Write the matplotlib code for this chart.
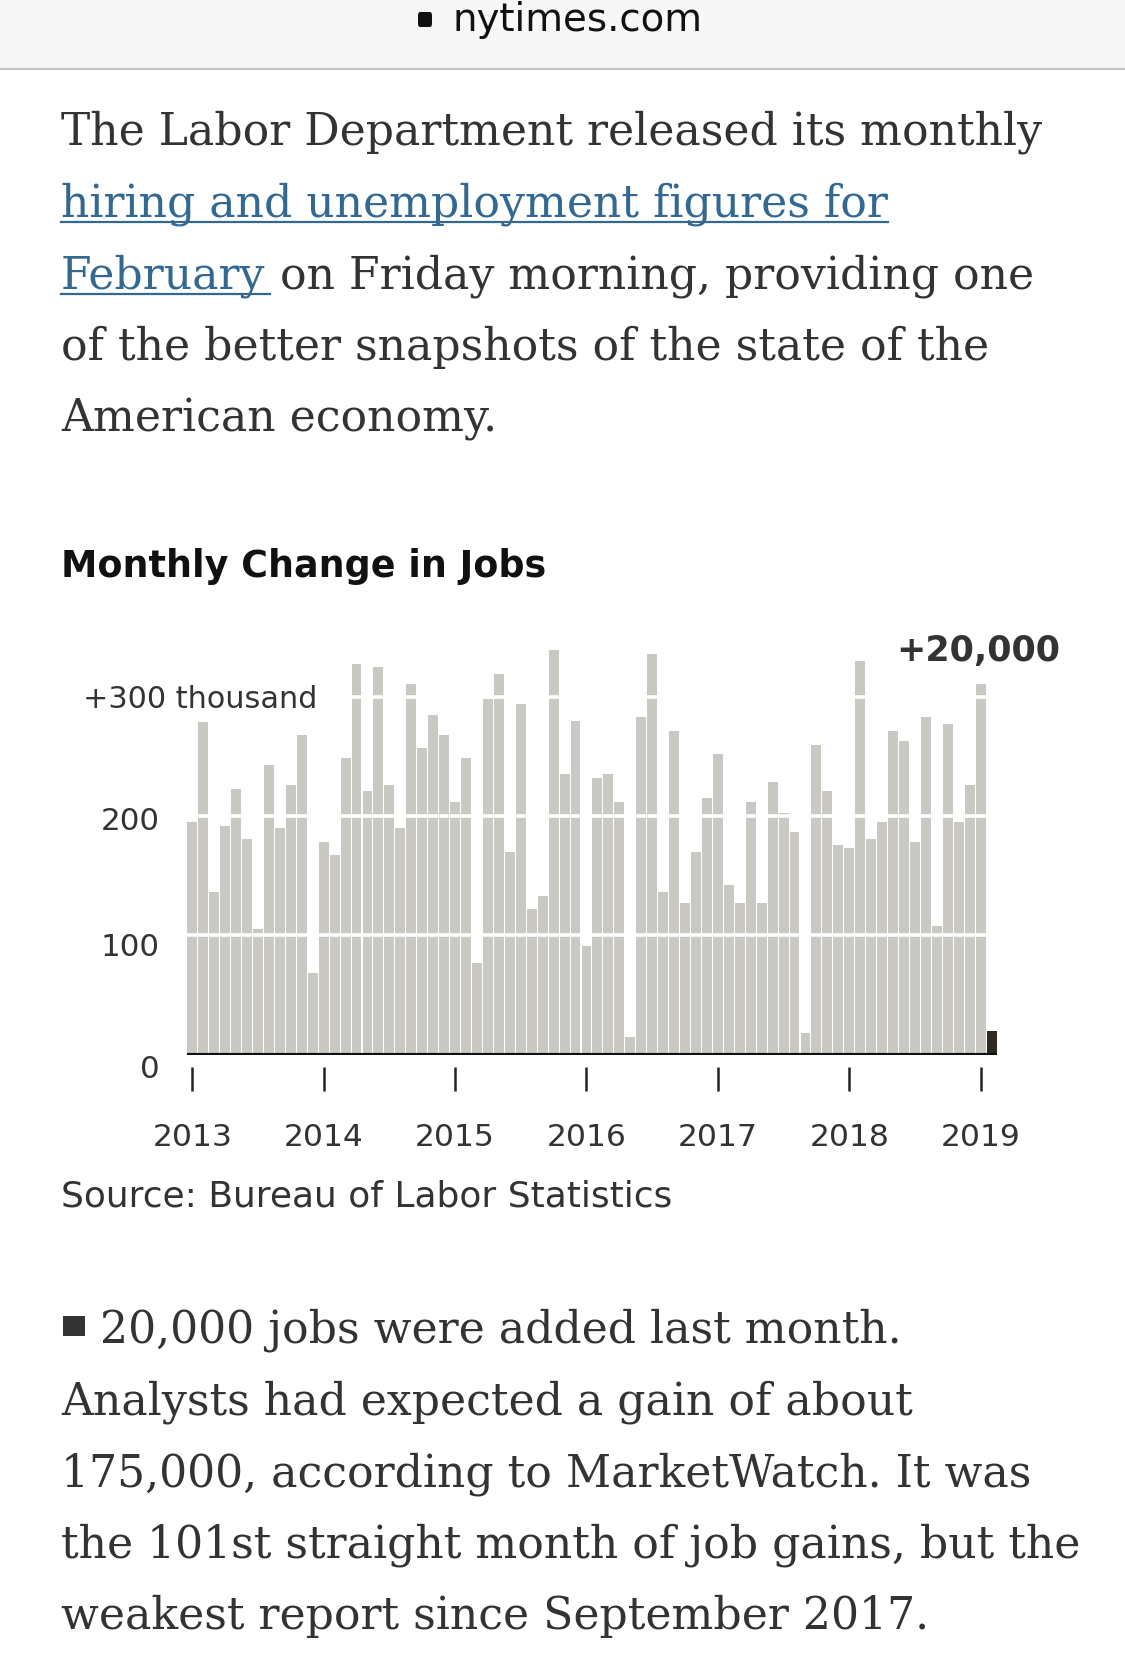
import matplotlib
matplotlib.use("Agg")
import matplotlib.pyplot as plt
from matplotlib.patches import Rectangle, FancyBboxPatch
from matplotlib.lines import Line2D

W, H = 1125, 1677

# monthly change in jobs, thousands, Jan 2013 - Feb 2019
jobs_2013 = [195, 279, 136, 192, 223, 181, 105, 243, 190, 226, 268, 68]
jobs_2014 = [178, 167, 249, 328, 221, 325, 226, 190, 311, 257, 285, 268]
jobs_2015 = [212, 249, 77, 298, 319, 170, 294, 122, 133, 339, 235, 280]
jobs_2016 = [91, 232, 235, 212, 15, 283, 336, 136, 271, 127, 170, 215]
jobs_2017 = [252, 142, 127, 212, 127, 229, 203, 187, 18, 260, 221, 176]
jobs_2018 = [173, 330, 181, 195, 271, 263, 178, 283, 108, 277, 195, 226]
jobs_2019 = [311, 20]
jobs = jobs_2013 + jobs_2014 + jobs_2015 + jobs_2016 + jobs_2017 + jobs_2018 + jobs_2019

years = [2013, 2014, 2015, 2016, 2017, 2018, 2019]
grid_vals = [100, 200, 300]
ylabels = ["0", "100", "200", "+300 thousand"]

TEXT = "#333333"
LINK = "#326891"
BAR = "#c9c8c3"
LAST = "#2e2a22"

fig = plt.figure(figsize=(W / 100, H / 100), dpi=100)
fig.patch.set_facecolor("white")


def fx(x):
    return x / W


def fy(y):
    return 1 - y / H


# browser bar
fig.patches.append(Rectangle((0, fy(69)), 1, 69 / H, transform=fig.transFigure,
                             facecolor="#f7f7f7", edgecolor="none", zorder=0))
fig.add_artist(Line2D([0, 1], [fy(69), fy(69)], transform=fig.transFigure, color="#c4c4c4", lw=1.5))
fig.patches.append(FancyBboxPatch((fx(418), fy(27)), 14 / W, 15 / H, boxstyle="round,pad=0,rounding_size=0.002",
                                  transform=fig.transFigure, facecolor="#111111", edgecolor="none"))
fig.text(fx(453), fy(31), "nytimes.com", fontsize=27.9, family="DejaVu Sans", color="#111111", va="baseline")

# intro paragraph
serif = dict(fontsize=31.8, family="DejaVu Serif", va="baseline")
fig.text(fx(61), fy(144.6), "The Labor Department released its monthly", color=TEXT, **serif)
link1 = fig.text(fx(61), fy(216.3), "hiring and unemployment figures for", color=LINK, **serif)
link2 = fig.text(fx(61), fy(288), "February", color=LINK, **serif)
fig.text(fx(61), fy(359.6), "of the better snapshots of the state of the", color=TEXT, **serif)
fig.text(fx(61), fy(431.3), "American economy.", color=TEXT, **serif)

# chart title
fig.text(fx(61), fy(577), "Monthly Change in Jobs", fontsize=26.3, family="DejaVu Sans",
         fontweight="bold", color="#111111", va="baseline")

# chart
ax = fig.add_axes([fx(186.8), fy(1054.5), (997.1 - 186.8) / W, (1054.5 - 637.3) / H])
ax.set_xlim(-0.5, 73.5)
ax.set_ylim(0, 350)
ax.axis("off")

xs = list(range(len(jobs)))
colors = [BAR] * (len(jobs) - 1) + [LAST]
ax.bar(xs, jobs, width=0.9, color=colors, zorder=1)
for v in grid_vals:
    ax.axhline(v, color="white", lw=2.6, zorder=2)
ax.axhline(0, color="#111111", lw=3, zorder=3)

# y labels
ypos = [-20, 83, 188, 291]
for lab, yp in zip(ylabels, ypos):
    if lab.startswith("+"):
        ax.text(-10.0, yp, lab, ha="left", va="baseline", fontsize=21.8, family="DejaVu Sans",
                color=TEXT, zorder=5, clip_on=False)
    else:
        ax.text(-2.95, yp, lab, ha="right", va="baseline", fontsize=22.3, family="DejaVu Sans",
                color=TEXT, zorder=5, clip_on=False)

# year ticks
for k, yr in enumerate(years):
    i = k * 12
    ax.plot([i, i], [-10.5, -30.4], color="#222222", lw=1.8, clip_on=False, solid_capstyle="butt")
    ax.text(i, -76.9, str(yr), ha="center", va="baseline", fontsize=22.6, family="DejaVu Sans",
            color=TEXT, clip_on=False)

fig.text(fx(1060), fy(661), "+20,000", ha="right", va="baseline", fontsize=25.2, family="DejaVu Sans",
         fontweight="bold", color=TEXT)

fig.text(fx(61), fy(1206.7), "Source: Bureau of Labor Statistics", fontsize=25.9, family="DejaVu Sans",
         color=TEXT, va="baseline")

# bullet paragraph
fig.patches.append(Rectangle((fx(63), fy(1336)), 22 / W, 20 / H, transform=fig.transFigure,
                             facecolor=TEXT, edgecolor="none"))
fig.text(fx(100), fy(1343), "20,000 jobs were added last month.", color=TEXT, **serif)
fig.text(fx(61), fy(1414.5), "Analysts had expected a gain of about", color=TEXT, **serif)
fig.text(fx(61), fy(1486), "175,000, according to MarketWatch. It was", color=TEXT, **serif)
fig.text(fx(61), fy(1557.5), "the 101st straight month of job gains, but the", color=TEXT, **serif)
fig.text(fx(61), fy(1629), "weakest report since September 2017.", color=TEXT, **serif)

# underline links and continue line 3 after the link
fig.canvas.draw()
r = fig.canvas.get_renderer()
b1 = link1.get_window_extent(r)
b2 = link2.get_window_extent(r)
fig.add_artist(Line2D([b1.x0 / W, b1.x1 / W], [fy(222), fy(222)], transform=fig.transFigure, color=LINK, lw=1.6))
fig.add_artist(Line2D([b2.x0 / W, (b2.x1 + 4) / W], [fy(294), fy(294)], transform=fig.transFigure, color=LINK, lw=1.6))
fig.text(b2.x1 / W, fy(288), " on Friday morning, providing one", color=TEXT, **serif)

fig.savefig("out.png", dpi=100)
